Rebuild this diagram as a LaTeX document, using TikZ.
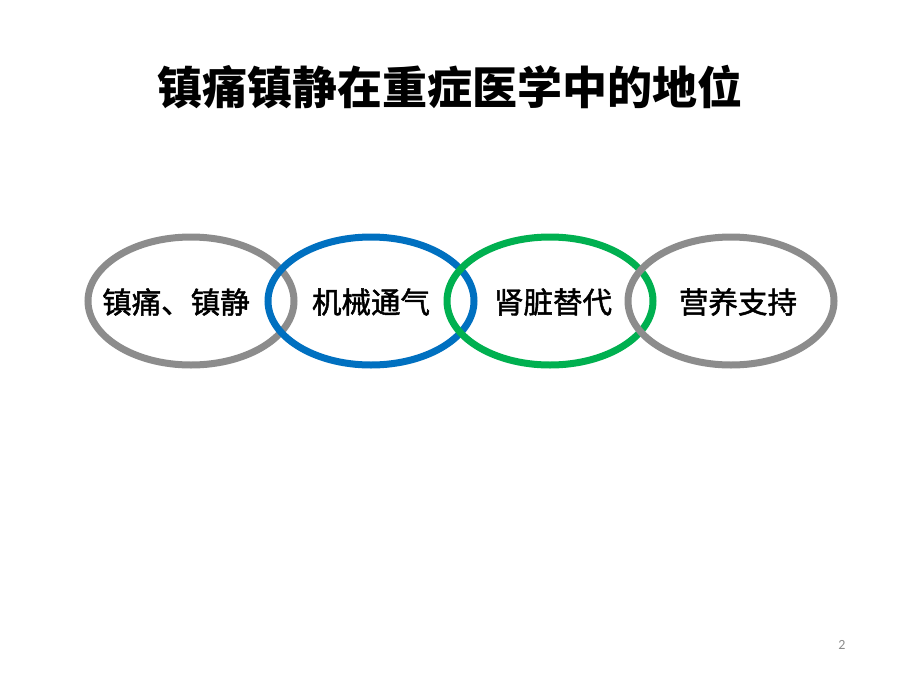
\documentclass[tikz,border=0pt]{standalone}
\usepackage{fontspec}
\usetikzlibrary{shapes.geometric}
\newfontfamily\cjk{Noto Sans CJK SC}
\newfontfamily\cjklabel{Noto Sans CJK SC}[FakeBold=1.6]
\newfontfamily\numfont{Carlito}
\definecolor{ringgray}{HTML}{8C8C8C}
\definecolor{ringblue}{HTML}{0070C0}
\definecolor{ringgreen}{HTML}{00B050}
\definecolor{pagegray}{HTML}{8C8C8C}
\begin{document}
\begin{tikzpicture}[x=1pt,y=-1pt,
  ring/.style={ellipse, draw=#1, line width=7pt, minimum width=206pt, minimum height=128pt, inner sep=0pt},
  ringlabel/.style={font=\cjklabel\fontsize{29.5}{34}\selectfont, text=black, inner sep=0pt},
  titletext/.style={font=\cjk\bfseries\fontsize{45}{54}\selectfont, text=black, inner sep=0pt}]
\useasboundingbox[fill=white] (0,0) rectangle (900,675);
\node[titletext] (title) at (450,87) {镇痛镇静在重症医学中的地位};
\node[ring=ringgray]  (e1) at (191,301) {};
\node[ring=ringblue]  (e2) at (371,301) {};
\node[ring=ringgreen] (e3) at (550,301) {};
\node[ring=ringgray]  (e4) at (731,301) {};
\node[ringlabel] (t1) at (176,302) {镇痛、镇静};
\node[ringlabel] (t2) at (371,302) {机械通气};
\node[ringlabel] (t3) at (553,302) {肾脏替代};
\node[ringlabel] (t4) at (738,302) {营养支持};
\node[font=\numfont\fontsize{14}{16}\selectfont, text=pagegray, inner sep=0pt] (pg) at (842,645) {2};
\end{tikzpicture}
\end{document}
